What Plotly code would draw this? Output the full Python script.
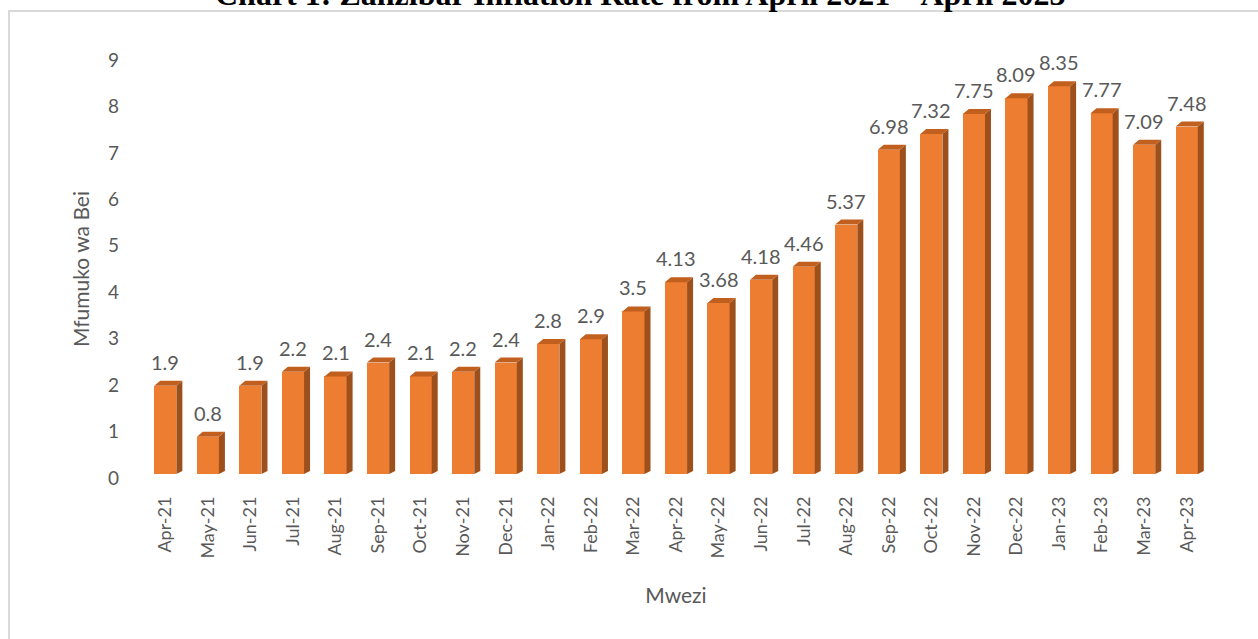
import plotly.graph_objects as go

months = ["Apr-21", "May-21", "Jun-21", "Jul-21", "Aug-21", "Sep-21", "Oct-21", "Nov-21",
          "Dec-21", "Jan-22", "Feb-22", "Mar-22", "Apr-22", "May-22", "Jun-22", "Jul-22",
          "Aug-22", "Sep-22", "Oct-22", "Nov-22", "Dec-22", "Jan-23", "Feb-23", "Mar-23", "Apr-23"]
inflation = [1.9, 0.8, 1.9, 2.2, 2.1, 2.4, 2.1, 2.2, 2.4, 2.8, 2.9, 3.5, 4.13, 3.68, 4.18,
             4.46, 5.37, 6.98, 7.32, 7.75, 8.09, 8.35, 7.77, 7.09, 7.48]
label_text = ["1.9", "0.8", "1.9", "2.2", "2.1", "2.4", "2.1", "2.2", "2.4", "2.8", "2.9", "3.5",
              "4.13", "3.68", "4.18", "4.46", "5.37", "6.98", "7.32", "7.75", "8.09", "8.35",
              "7.77", "7.09", "7.48"]

W = 1258
H = 639
ml, mr, mt, mb = 144, 50, 60, 161
pw = W - ml - mr
ph = H - mt - mb

n = len(months)
xs = list(range(n))
bw = 0.52
unit_px = ph / 9
# 3D depth expressed in axis units
dx = 6 / (pw / n)
dy = 5 / unit_px
lift = 4 / unit_px  # perspective lift of the front face

FRONT = "#ED7D31"
SIDE = "#9E501C"
TOP = "#C15F1F"
TXT = "#595959"
FONT = "Lato"

fig = go.Figure()

sx, sy = [], []
tx, ty = [], []
for i, v in zip(xs, inflation):
    r = i + bw / 2
    l = i - bw / 2
    b = lift
    t = v + lift
    sx += [r, r + dx, r + dx, r, r, None]
    sy += [b, b + dy * 0.6, t + dy, t, b, None]
    tx += [l, r, r + dx, l + dx, l, None]
    ty += [t, t, t + dy, t + dy, t, None]

fig.add_trace(go.Scatter(x=sx, y=sy, fill="toself", fillcolor=SIDE, mode="lines",
                         line=dict(width=0, color=SIDE), hoverinfo="skip", showlegend=False))
fig.add_trace(go.Scatter(x=tx, y=ty, fill="toself", fillcolor=TOP, mode="lines",
                         line=dict(width=0, color=TOP), hoverinfo="skip", showlegend=False))
fig.add_trace(go.Bar(x=xs, y=inflation, base=lift, width=bw,
                     marker=dict(color=FRONT, line=dict(width=0)), showlegend=False))

for i, v, t in zip(xs, inflation, label_text):
    fig.add_annotation(x=i, y=v + lift, text=t, showarrow=False, yanchor="bottom", yshift=10,
                       font=dict(family=FONT, size=20, color=TXT))


def py(p):
    return (H - mb - p) / ph


def px(p):
    return (p - ml) / pw


# chart border (top and left visible)
fig.add_shape(type="line", xref="paper", yref="paper",
              x0=px(8), x1=px(W), y0=py(11), y1=py(11),
              line=dict(color="#D9D9D9", width=2))
fig.add_shape(type="line", xref="paper", yref="paper",
              x0=px(9), x1=px(9), y0=py(11), y1=py(H + 5),
              line=dict(color="#D9D9D9", width=2))

# title (cut off at the top, as in the reference)
fig.add_annotation(xref="paper", yref="paper", x=px(640), y=py(-6),
                   yanchor="middle", xanchor="center", showarrow=False,
                   text="<b>Chart 1: Zanzibar Inflation Rate from April 2021 \u2013 April 2023</b>",
                   font=dict(family="Liberation Serif", size=32, color="#000000"))

fig.update_layout(
    width=W, height=H,
    margin=dict(l=ml, r=mr, t=mt, b=mb),
    plot_bgcolor="white", paper_bgcolor="white",
    bargap=0,
    xaxis=dict(tickmode="array", tickvals=xs, ticktext=months, tickangle=-90,
               range=[-0.5, n - 0.5], showgrid=False, zeroline=False, showline=False,
               ticks="", ticklabelstandoff=14,
               tickfont=dict(family=FONT, size=18, color=TXT),
               title=dict(text="Mwezi", font=dict(family=FONT, size=21, color=TXT), standoff=30)),
    yaxis=dict(range=[0, 9], dtick=1, showgrid=False, zeroline=False, showline=False,
               ticks="", tickfont=dict(family=FONT, size=19, color=TXT), ticklabelstandoff=24,
               title=dict(text="Mfumuko wa Bei", font=dict(family=FONT, size=21, color=TXT), standoff=12)),
)

fig.write_html("out.html", config={"displayModeBar": False},
               post_script="document.body.style.margin='0px';")
